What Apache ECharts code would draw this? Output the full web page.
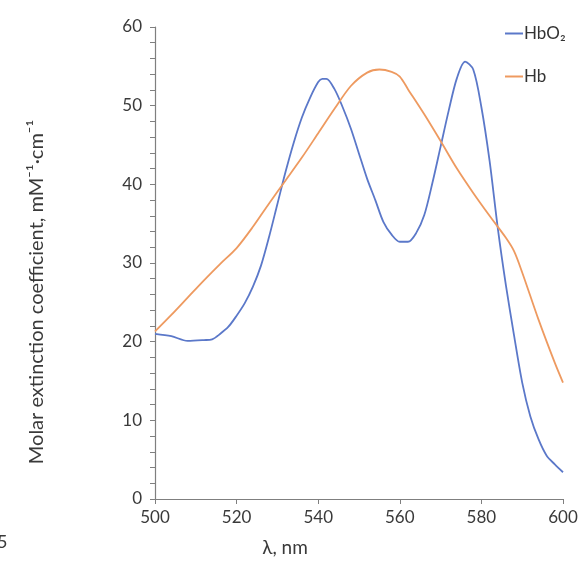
<!DOCTYPE html>
<html>
<head>
<meta charset="utf-8">
<script src="https://cdn.jsdelivr.net/npm/echarts@6/dist/echarts.min.js"></script>
<style>html,body{margin:0;padding:0;background:#fff;}#c{width:585px;height:567px;}</style>
</head>
<body>
<div id="c"></div>
<script>
const xTicks = [500, 520, 540, 560, 580, 600];
const yTicks = [0, 10, 20, 30, 40, 50, 60];
const hbo2Lambda = [500,504,508,512,514,516,518,520,522,524,526,528,530,532,534,536,538,540,541,542,544,546,548,550,552,554,556,558,560,562,564,566,568,570,572,574,576,578,580,582,584,586,588,590,592,594,596,598,600];
const hbo2Values = [21.0,20.7,20.1,20.2,20.3,21.0,21.9,23.3,24.9,27.0,29.7,33.4,37.5,41.6,45.3,48.5,51.0,53.0,53.4,53.4,52.1,49.8,47.1,43.9,40.7,38.0,35.2,33.6,32.7,32.7,33.8,36.1,40.2,44.8,49.4,53.5,55.6,54.6,49.8,43.0,34.5,27.2,20.8,14.8,10.5,7.6,5.5,4.4,3.4];
const hbLambda = [500,504,508,512,516,520,524,528,532,536,540,544,548,552,555,558,560,562,566,570,574,578,582,586,588,590,594,598,600];
const hbValues = [21.3,23.4,25.6,27.8,29.9,31.9,34.6,37.6,40.5,43.4,46.5,49.6,52.5,54.2,54.6,54.3,53.7,52.1,48.9,45.5,42.0,38.9,36.0,33.2,31.5,28.8,22.8,17.3,14.8];
const seriesNames = ['HbO₂', 'Hb'];
const xAxisTitle = 'λ, nm';
const yAxisTitle = 'Molar extinction coefficient, mM⁻¹·cm⁻¹';

const font = 'Lato, "Open Sans", sans-serif';
const chart = echarts.init(document.getElementById('c'));
const pair = (xs, ys) => xs.map((x, i) => [x, ys[i]]);
chart.setOption({
  animation: false,
  backgroundColor: '#fff',
  grid: { left: 155, right: 22, top: 27, bottom: 68 },
  legend: {
    orient: 'vertical', left: 500, top: 20, itemGap: 26,
    itemWidth: 18, itemHeight: 8,
    textStyle: { fontFamily: font, fontSize: 17, color: '#333', fontWeight: 'normal', padding: [0, 0, 0, -4] },
    data: seriesNames.map(n => ({ name: n, icon: 'path://M0,0 L18,0 L18,2 L0,2 Z' }))
  },
  xAxis: {
    type: 'value', min: xTicks[0], max: xTicks[xTicks.length - 1], interval: 20,
    axisLine: { lineStyle: { color: '#7f7f7f', width: 1.2 } },
    axisTick: { show: true, length: 5, lineStyle: { color: '#7f7f7f' } },
    splitLine: { show: false },
    axisLabel: { fontFamily: font, fontSize: 17, color: '#3a3a3a', margin: 10 }
  },
  yAxis: {
    type: 'value', min: yTicks[0], max: yTicks[yTicks.length - 1], interval: 10,
    axisLine: { show: true, lineStyle: { color: '#7f7f7f', width: 1.2 } },
    axisTick: { show: true, length: 5, lineStyle: { color: '#7f7f7f' } },
    minorTick: { show: true, splitNumber: 5, length: 5, lineStyle: { color: '#7f7f7f' } },
    splitLine: { show: false },
    axisLabel: { fontFamily: font, fontSize: 17, color: '#3a3a3a', margin: 13 }
  },
  series: [
    { name: seriesNames[0], type: 'line', data: pair(hbo2Lambda, hbo2Values), showSymbol: false, symbol: 'none', smooth: 0.3,
      lineStyle: { color: '#5B78C9', width: 1.8 }, itemStyle: { color: '#5B78C9' } },
    { name: seriesNames[1], type: 'line', data: pair(hbLambda, hbValues), showSymbol: false, symbol: 'none', smooth: 0.3,
      lineStyle: { color: '#EE9A60', width: 1.8 }, itemStyle: { color: '#EE9A60' } }
  ],
  graphic: [
    { type: 'text', x: 285, y: 548, style: { text: xAxisTitle, fontFamily: font, fontSize: 19, fill: '#3a3a3a', textAlign: 'center', textVerticalAlign: 'middle' } },
    { type: 'text', x: 37, y: 292, rotation: Math.PI / 2, style: { text: yAxisTitle, fontFamily: font, fontSize: 20, fill: '#3a3a3a', textAlign: 'center', textVerticalAlign: 'middle' } },
    { type: 'text', x: -3, y: 542, style: { text: '5', fontFamily: font, fontSize: 18, fill: '#3a3a3a', textVerticalAlign: 'middle' } }
  ]
});
</script>
</body>
</html>
